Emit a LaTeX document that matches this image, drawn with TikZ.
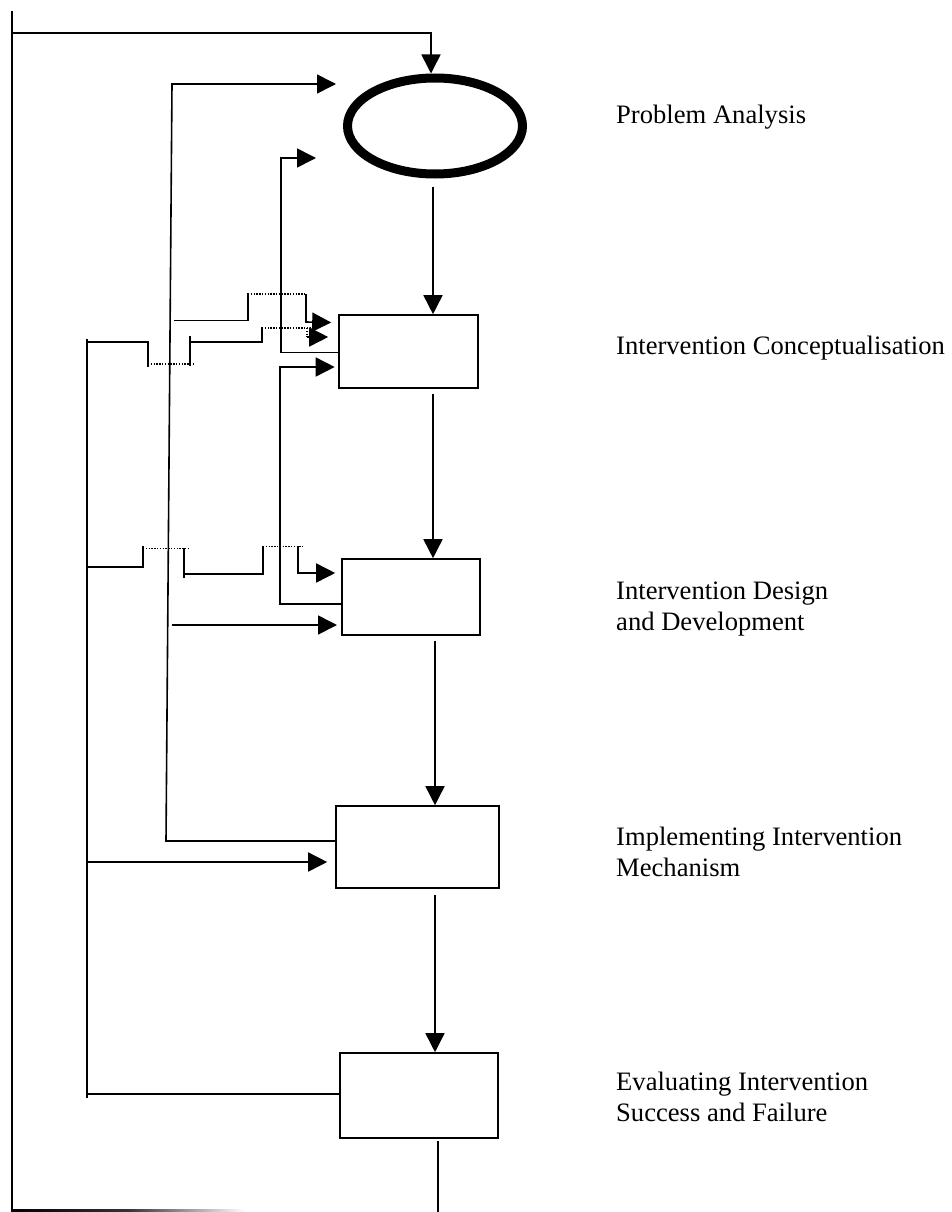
\documentclass[tikz,border=0pt]{standalone}
\usepackage{fontspec}
\setmainfont{Liberation Serif}
\usetikzlibrary{arrows.meta,shapes.geometric,calc}
\begin{document}
\begin{tikzpicture}[x=1pt,y=-1pt,
  ln/.style={line width=1.6pt},
  thk/.style={line width=2.8pt},
  arr/.style={line width=1.6pt,-{Triangle[length=19pt,width=19pt]}},
  dotln/.style={line width=1.4pt,dash pattern=on 1.4pt off 1.4pt},
  boxnode/.style={draw,line width=1.6pt,rectangle,inner sep=0pt},
  lab/.style={anchor=base west,align=left,inner sep=0pt,font=\fontsize{26.6}{30.6}\selectfont}]
\useasboundingbox (0,0) rectangle (951,1212);

% stages
\node[draw,ellipse,line width=9pt,minimum width=175pt,minimum height=96pt,inner sep=0pt] (pa) at (435,126) {};
\node[boxnode,minimum width=139pt,minimum height=73pt] (b2) at (408.5,351.5) {};
\node[boxnode,minimum width=138pt,minimum height=76pt] (b3) at (411,597) {};
\node[boxnode,minimum width=163pt,minimum height=82pt] (b4) at (417.5,847) {};
\node[boxnode,minimum width=158pt,minimum height=85pt] (b5) at (419,1095.5) {};

% labels (base = baseline of last line)
\node[lab] (t1) at (616,124) {Problem Analysis};
\node[lab] (t2) at (616,354) {Intervention Conceptualisation};
\node[lab] (t3) at (616,630) {Intervention Design\\and Development};
\node[lab] (t4) at (616,876) {Implementing Intervention\\Mechanism};
\node[lab] (t5) at (616,1121) {Evaluating Intervention\\Success and Failure};

% main flow
\draw[arr] ($(pa.south)+(-2,8)$) -- ($(b2.north)+(24.5,0)$);
\draw[arr] ($(b2.south)+(24.5,5)$) -- ($(b3.north)+(22,0)$);
\draw[arr] ($(b3.south)+(24,5)$) -- ($(b4.north)+(17.5,0)$);
\draw[arr] ($(b4.south)+(17.5,6)$) -- ($(b5.north)+(16,0)$);
\coordinate (bend) at (438,1213);
\draw[ln] ($(b5.south)+(19,2)$) -- (bend);

% outer feedback loop
\coordinate (tl) at (12,11);
\coordinate (bl) at (12,1211);
\coordinate (tj) at (12,33);
\draw[ln] (tl) -- (bl);
\shade[left color=black,right color=white,middle color=black!80] (11.2,1209.3) rectangle (245,1211.8);
\draw[arr] (tj) -| ($(pa.north)+(-4,0)$);

% long loop from implementation
\draw[arr] ($(b4.west)+(0,-6)$) -- (166,841) -- (172,84) -- ($(pa.west)+(-7,-42)$);
\coordinate (l1a) at (174,320.5);
\draw[ln] (l1a) -- (248,320.5) -- (248,293);
\draw[dotln] (248,294) -- (306,294);
\draw[arr] (306,294) -- (306,322) -- ($(b2.west)+(-7,-29)$);
\coordinate (l1b) at (171.5,625);
\draw[arr] (l1b) -- ($(b3.west)+(-4.2,28)$);

% loop from conceptualisation to problem analysis
\draw[arr] ($(b2.west)+(0,1)$) -- (281,352.5) -- (281,158) -- ($(pa.west)+(-27,32)$);

% loop from design to conceptualisation
\draw[arr] ($(b3.west)+(0,7)$) -- (280,604) -- (280,367) -- ($(b2.west)+(-3.5,15.5)$);

% left bus from evaluation
\coordinate (bt) at (87,339);
\coordinate (bb) at (87,1098);
\draw[ln] (bt) -- (bb);
\draw[ln] ($(b5.west)+(0,-1.5)$) -- (87,1094);

% bus branch to conceptualisation
\coordinate (bc) at (87,342);
\draw[ln] (bc) -- (148,342) -- (148,367);
\draw[dotln] (148,364) -- (194,364);
\draw[thk] (190,366) -- (190,336);
\draw[ln] (190,342) -- (262,342) -- (262,327);
\draw[dotln] (262,328) -- (310,328);
\draw[dotln] (307,328) -- (307,337);
\draw[arr] (307,337) -- ($(b2.west)+(-10,-14.5)$);

% bus branch to design
\coordinate (bd) at (87,567);
\draw[ln] (bd) -- (143,567) -- (143,546);
\draw[dotln] (143,548.5) -- (188,548.5);
\draw[thk] (184,548) -- (184,578);
\draw[ln] (184,574) -- (263,574) -- (263,546);
\draw[dotln] (263,546.5) -- (303,546.5);
\draw[arr] (298,546) -- (298,573) -- ($(b3.west)+(-6,-24)$);

% bus branch to implementation
\coordinate (bi) at (88,862);
\draw[arr] (bi) -- ($(b4.west)+(-8,15)$);
\end{tikzpicture}
\end{document}
